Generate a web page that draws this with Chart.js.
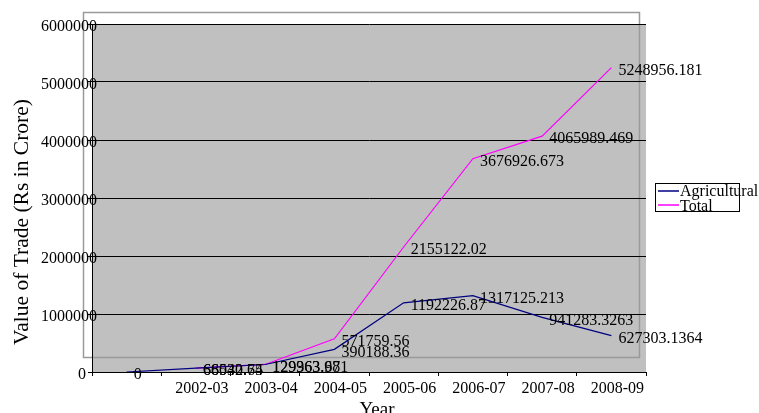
<!DOCTYPE html>
<html>
<head>
<meta charset="utf-8">
<script src="https://cdn.jsdelivr.net/npm/chart.js@4/dist/chart.umd.min.js"></script>
<style>
  html, body { margin: 0; padding: 0; background: #ffffff; }
  canvas { display: block; }
</style>
</head>
<body>
<canvas id="trade" width="759" height="413"></canvas>
<script>
// Categories (first slot is an unlabeled base year)
const years = ['', '2002-03', '2003-04', '2004-05', '2005-06', '2006-07', '2007-08', '2008-09'];

// Value of trade, Rs in crore
const agricultural = [0, 66530.74, 129363.681, 390188.36, 1192226.87, 1317125.213, 941283.3263, 627303.1364];
const total = [null, 68042.65, 129963.97, 571759.56, 2155122.02, 3676926.673, 4065989.469, 5248956.181];

// Value axis ticks
const yTicks = [0, 1000000, 2000000, 3000000, 4000000, 5000000, 6000000];

const SERIF = '"Liberation Serif", "Times New Roman", serif';

// Grey plot background plus the light frame around the plot region
const backdrop = {
  id: 'backdrop',
  beforeDraw(chart) {
    const { ctx, chartArea: a } = chart;
    ctx.save();
    ctx.fillStyle = '#ffffff';
    ctx.fillRect(0, 0, chart.width, chart.height);
    ctx.fillStyle = '#c0c0c0';
    ctx.fillRect(a.left, a.top, a.right - a.left, a.bottom - a.top);
    ctx.strokeStyle = '#9a9a9a';
    ctx.lineWidth = 1.5;
    ctx.strokeRect(83.5, 12.5, 556, 345);
    ctx.restore();
  }
};

// Value-axis tick labels; wide labels spill over the axis line
const valueLabels = {
  id: 'valueLabels',
  afterDatasetsDraw(chart) {
    const { ctx } = chart;
    const y = chart.scales.y;
    ctx.save();
    ctx.font = '16px ' + SERIF;
    ctx.fillStyle = '#000000';
    ctx.textAlign = 'left';
    ctx.textBaseline = 'middle';
    y.ticks.forEach(t => {
      const txt = String(t.value);
      const w = ctx.measureText(txt).width;
      const x = Math.max(41, 86 - w);
      ctx.fillText(txt, x, y.getPixelForValue(t.value) + 3);
    });
    ctx.restore();
  }
};

// Value labels to the right of each point
const pointLabels = {
  id: 'pointLabels',
  afterDatasetsDraw(chart) {
    const { ctx } = chart;
    ctx.save();
    ctx.font = '16px ' + SERIF;
    ctx.fillStyle = '#000000';
    ctx.textAlign = 'left';
    ctx.textBaseline = 'middle';
    chart.data.datasets.forEach((ds, i) => {
      const meta = chart.getDatasetMeta(i);
      meta.data.forEach((pt, j) => {
        const v = ds.data[j];
        if (v === null || v === undefined) return;
        ctx.fillText(String(v), pt.x + 7, pt.y + 3);
      });
    });
    ctx.restore();
  }
};

// Axis titles and the boxed legend
const annotations = {
  id: 'annotations',
  afterDraw(chart) {
    const { ctx } = chart;
    ctx.save();
    ctx.fillStyle = '#000000';

    // vertical axis title
    ctx.save();
    ctx.translate(22, 222);
    ctx.rotate(-Math.PI / 2);
    ctx.font = '21.5px ' + SERIF;
    ctx.textAlign = 'center';
    ctx.textBaseline = 'middle';
    ctx.fillText('Value of Trade (Rs in Crore)', 0, 0);
    ctx.restore();

    // horizontal axis title
    ctx.font = '19px ' + SERIF;
    ctx.textAlign = 'center';
    ctx.textBaseline = 'alphabetic';
    ctx.fillText('Year', 377, 415);

    // legend
    ctx.strokeStyle = '#000000';
    ctx.lineWidth = 1;
    ctx.strokeRect(655.5, 183.5, 84, 28);
    const rows = [196, 211];
    const lineY = [191, 205];
    chart.data.datasets.forEach((ds, i) => {
      ctx.strokeStyle = ds.borderColor;
      ctx.lineWidth = 1.5;
      ctx.beginPath();
      ctx.moveTo(658, lineY[i]);
      ctx.lineTo(679, lineY[i]);
      ctx.stroke();
      ctx.font = '16px ' + SERIF;
      ctx.textAlign = 'left';
      ctx.textBaseline = 'alphabetic';
      ctx.fillStyle = '#000000';
      ctx.fillText(ds.label, 680, rows[i]);
    });
    ctx.restore();
  }
};

new Chart(document.getElementById('trade'), {
  type: 'line',
  data: {
    labels: years,
    datasets: [
      {
        label: 'Agricultural',
        data: agricultural,
        borderColor: '#000080',
        backgroundColor: '#000080',
        borderWidth: 1.2,
        pointRadius: 0,
        tension: 0
      },
      {
        label: 'Total',
        data: total,
        borderColor: '#ff00ff',
        backgroundColor: '#ff00ff',
        borderWidth: 1.2,
        pointRadius: 0,
        tension: 0
      }
    ]
  },
  options: {
    responsive: false,
    animation: false,
    devicePixelRatio: 1,
    layout: { padding: { top: 24, right: 113, left: 0, bottom: 0 } },
    plugins: {
      legend: { display: false },
      tooltip: { enabled: false },
      title: { display: false }
    },
    scales: {
      x: {
        type: 'category',
        offset: true,
        grid: {
          offset: true,
          drawOnChartArea: false,
          drawTicks: true,
          tickLength: 4,
          color: '#000000'
        },
        border: { display: true, color: '#000000', width: 1 },
        ticks: {
          font: { family: SERIF, size: 16 },
          color: '#000000',
          padding: 3,
          labelOffset: 6,
          maxRotation: 0,
          autoSkip: false
        },
        afterFit(scale) { scale.height = 41; }
      },
      y: {
        min: 0,
        max: 6000000,
        afterBuildTicks(scale) { scale.ticks = yTicks.map(v => ({ value: v })); },
        grid: {
          color: '#000000',
          lineWidth: 1,
          drawTicks: true,
          tickLength: 4
        },
        border: { display: true, color: '#000000', width: 1 },
        ticks: { display: false },
        afterFit(scale) { scale.width = 92; }
      }
    }
  },
  plugins: [backdrop, valueLabels, pointLabels, annotations]
});
</script>
</body>
</html>
